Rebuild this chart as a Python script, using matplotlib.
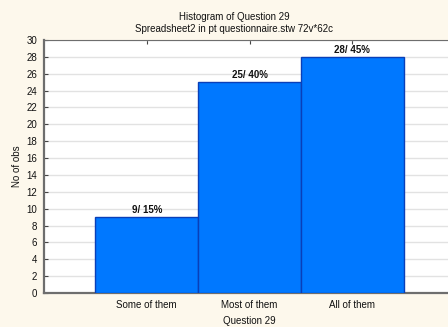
import matplotlib
matplotlib.use("Agg")
import matplotlib.pyplot as plt

plt.rcParams['font.family'] = ['Liberation Sans', 'DejaVu Sans']

categories = ["Some of them", "Most of them", "All of them"]
counts = [9, 25, 28]
percents = [15, 40, 45]
y_ticks = list(range(0, 31, 2))

fig = plt.figure(figsize=(4.48, 3.27), dpi=100)
fig.patch.set_facecolor("#FDF8EC")

ax = fig.add_axes([44 / 448, 34 / 327, 411 / 448, 253 / 327])
ax.set_facecolor("white")

x = list(range(len(categories)))
ax.bar(x, counts, width=1.0, color="#0078FF", edgecolor="#0A3FB8", linewidth=1.0, zorder=3)

for xi, c, p in zip(x, counts, percents):
    ax.text(xi, c + 0.2, f"{c}/ {p}%", ha="center", va="bottom",
            fontsize=7, fontweight="bold", color="#111111", zorder=4)

ax.set_xlim(-1, 3)
ax.set_ylim(0, 30)
ax.set_xticks(x)
ax.set_xticklabels(categories)
ax.set_yticks(y_ticks)

ax.yaxis.grid(True, color="#E2E2E2", linewidth=1.0, zorder=0)
ax.xaxis.grid(False)

for side in ("left", "bottom"):
    ax.spines[side].set_color("#6E6E6E")
    ax.spines[side].set_linewidth(1.6)
ax.spines["top"].set_color("#6E6E6E")
ax.spines["top"].set_linewidth(0.8)
ax.spines["right"].set_visible(False)

ax.tick_params(axis="both", direction="in", length=3, width=0.8, color="#444444",
               labelsize=7, labelcolor="#111111")
ax.tick_params(axis="x", top=True, pad=5)
ax.tick_params(axis="y", pad=5)

ax.set_xlabel("Question 29", fontsize=7, color="#111111", labelpad=4)
ax.set_ylabel("No of obs", fontsize=7, color="#111111", labelpad=3)

fig.text(234 / 448, 1 - 16.5 / 327, "Histogram of Question 29", ha="center", va="center",
         fontsize=7, color="#111111")
fig.text(234 / 448, 1 - 28.5 / 327, "Spreadsheet2 in pt questionnaire.stw 72v*62c", ha="center",
         va="center", fontsize=7, color="#111111")

fig.savefig("out.png", dpi=100, facecolor=fig.get_facecolor())
